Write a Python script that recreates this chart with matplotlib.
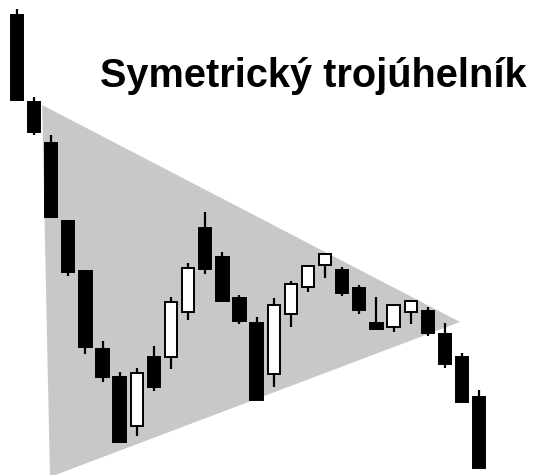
import matplotlib.pyplot as plt
import numpy as np

# prices (arbitrary units, higher = up)
opens  = [465, 378, 337, 259, 209, 131, 103,  54, 123, 123, 168, 252, 223, 182, 157, 106, 166, 193, 215, 210, 192, 157, 153, 168, 169, 146, 123,  83]
highs  = [471, 383, 345, 259, 209, 139, 108, 112, 134, 183, 217, 268, 228, 185, 163, 182, 199, 214, 226, 213, 195, 183, 175, 179, 173, 157, 127,  90]
lows   = [379, 345, 263, 204, 126,  98,  38,  44,  89, 111, 160, 206, 179, 156,  80,  93, 153, 188, 202, 184, 166, 151, 148, 156, 144, 112,  78,  12]
closes = [380, 348, 263, 208, 133, 103,  38, 107,  93, 178, 212, 211, 179, 159,  80, 175, 196, 214, 226, 187, 170, 151, 175, 179, 147, 116,  78,  12]

# symmetric triangle outline (day index, price)
tri_x = [1.47, 25.88, 1.93]
tri_y = [375, 158, 3]

title = "Symetrický trojúhelník"

fig = plt.figure(figsize=(5.36, 4.75), dpi=100)
ax = fig.add_axes([0, 0, 1, 1])
ax.set_xlim(-0.99, 30.32)
ax.set_ylim(5, 480)
ax.axis("off")

ax.fill(tri_x, tri_y, color="#c9c7c7", lw=0, zorder=1)

o = np.array(opens)
h = np.array(highs)
l = np.array(lows)
c = np.array(closes)
x = np.arange(len(o))
up = c > o

ax.vlines(x, l, h, color="black", lw=1.6, zorder=2)
bottoms = np.minimum(o, c)
heights = np.maximum(np.abs(c - o), 2)
ax.bar(x, heights, bottom=bottoms, width=0.72,
       color=np.where(up, "white", "black"), edgecolor="black", lw=1.4, zorder=3)

fig.text(100 / 536, 1 - 87 / 475, title, fontsize=28.6, fontweight="bold",
         family="Liberation Sans", ha="left", va="baseline", color="black")

fig.savefig("out.png", dpi=100, facecolor="white")
